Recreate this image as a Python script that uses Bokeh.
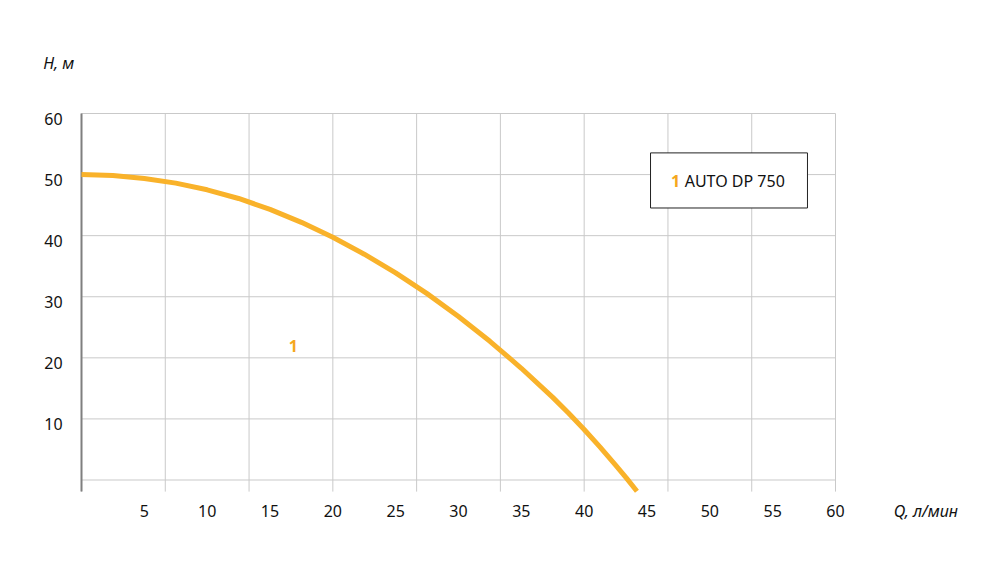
from bokeh.plotting import figure
from bokeh.models import Range1d, ColumnDataSource
from bokeh.core.properties import value
from bokeh.embed import file_html
from bokeh.resources import INLINE

# ---- Data ----
flow_q = [0, 2.5, 5, 7.5, 10, 12.5, 15, 17.5, 20, 22.5, 25, 27.5, 30, 32.5, 35, 37.5, 38.75,
          40, 41.25, 42.5, 43.35, 44.2]
head_h = [50.0, 49.84, 49.37, 48.60, 47.51, 46.09, 44.31, 42.18, 39.73, 36.97, 33.91, 30.51,
          26.78, 22.71, 18.29, 13.53, 10.97, 8.26, 5.42, 2.45, 0.35, -1.85]
x_tick_values = [5, 10, 15, 20, 25, 30, 35, 40, 45, 50, 55, 60]
y_tick_values = [10, 20, 30, 40, 50, 60]
y_grid_values = [0, 10, 20, 30, 40, 50, 60]
x_grid_count = 9           # vertical grid lines divide 0..60 into 9 equal parts
series_name = "AUTO DP 750"
series_number = "1"
x_title = "Q, л/мин"
y_title = "H, м"

FONT = value("Noto Sans")
CURVE = "#F9B22A"
NUM = "#F5A71E"
GRID = "#c9c9c9"
TXT = "#111111"

X_MIN, X_MAX = 0, 60
Y_MIN, Y_MAX = -1.9, 60

# canvas mapped so that Q=0 -> 81px, Q=60 -> 835px ; H=0 -> 479.5px, H=60 -> 113px
W, H = 980, 565
sx = 754 / 60.0
sy = 366.5 / 60.0
xr = Range1d(-81 / sx, (W - 81) / sx)
yr = Range1d((479.5 - H) / sy, 479.5 / sy)

p = figure(width=W, height=H, output_backend="svg", toolbar_location=None,
           x_range=xr, y_range=yr, x_axis_location=None, y_axis_location=None,
           min_border=0)
p.outline_line_color = None
p.xgrid.visible = False
p.ygrid.visible = False
p.background_fill_color = "white"

# ---- grid ----
vx = [X_MIN + i * (X_MAX - X_MIN) / x_grid_count for i in range(x_grid_count + 1)]
p.segment(x0=vx, y0=[Y_MIN] * len(vx), x1=vx, y1=[Y_MAX] * len(vx),
          line_color=GRID, line_width=1)
p.segment(x0=[X_MIN] * len(y_grid_values), y0=y_grid_values,
          x1=[X_MAX] * len(y_grid_values), y1=y_grid_values,
          line_color=GRID, line_width=1)

# ---- y axis line ----
p.segment(x0=[X_MIN], y0=[Y_MIN], x1=[X_MIN], y1=[Y_MAX], line_color="#7f7f7f", line_width=2)

# ---- tick labels ----
p.text(x=x_tick_values, y=[-5.0] * len(x_tick_values), text=[str(v) for v in x_tick_values],
       text_font=FONT, text_font_size="16px", text_color=TXT,
       text_align="center", text_baseline="middle")
p.text(x=[-1.5] * len(y_tick_values), y=y_tick_values, text=[str(v) for v in y_tick_values],
       text_font=FONT, text_font_size="16px", text_color=TXT,
       text_align="right", text_baseline="middle", y_offset=5)

# ---- axis titles ----
p.text(x=[-3.05], y=[68.3], text=[y_title], text_font=FONT, text_font_size="16px",
       text_font_style="italic", text_color=TXT, text_align="left", text_baseline="middle")
p.text(x=[64.64], y=[-5.1], text=[x_title], text_font=FONT, text_font_size="16px",
       text_font_style="italic", text_color=TXT, text_align="left", text_baseline="middle")

# ---- curve ----
src = ColumnDataSource(dict(q=flow_q, h=head_h))
p.line("q", "h", source=src, line_color=CURVE, line_width=5, line_join="round")

# curve number label
p.text(x=[16.85], y=[21.95], text=[series_number], text_font=FONT, text_font_size="16px",
       text_font_style="bold", text_color=NUM, text_align="center", text_baseline="middle")

# ---- legend box ----
p.quad(left=[45.28], right=[57.77], bottom=[44.53], top=[53.55],
       fill_color="white", fill_alpha=1.0, line_color="#222222", line_width=1)
p.text(x=[47.27], y=[49.0], text=[series_number], text_font=FONT, text_font_size="16px",
       text_font_style="bold", text_color=NUM, text_align="center", text_baseline="middle")
p.text(x=[48.0], y=[49.0], text=[series_name], text_font=FONT, text_font_size="16px",
       text_color=TXT, text_align="left", text_baseline="middle")

open("out.html", "w").write(file_html(p, INLINE))
